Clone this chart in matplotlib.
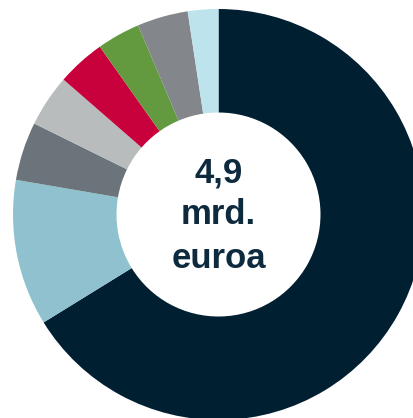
import matplotlib.pyplot as plt

# -------------------------
# Data (shares, clockwise from 12 o'clock)
# -------------------------
segments = ["A", "B", "C", "D", "E", "F", "G", "H"]
shares = [66.2, 11.5, 4.6, 4.1, 3.8, 3.4, 4.0, 2.4]
colors = ["#001f31", "#8fc2ce", "#6b737b", "#b8bcbd",
          "#c8003c", "#639a3f", "#83878c", "#bde3ec"]
center_lines = ["4,9", "mrd.", "euroa"]

# -------------------------
# Plot
# -------------------------
W, H = 414, 418
fig = plt.figure(figsize=(W / 100, H / 100), dpi=100)
ax = fig.add_axes([0, 0, 1, 1])

cx, cy = 218.5, H - 214.5
R, r = 205.5, 102

ax.pie(shares, colors=colors, startangle=90, counterclock=False,
       center=(cx, cy), radius=R, frame=True,
       wedgeprops=dict(width=R - r, linewidth=0))
ax.set_xlim(0, W)
ax.set_ylim(0, H)
ax.set_aspect("auto")
ax.axis("off")

text_color = "#0d2a3e"
baselines = [183, 224, 268]
for line, yb in zip(center_lines, baselines):
    ax.text(cx, H - yb, line, ha="center", va="baseline",
            fontsize=25, fontweight="bold", color=text_color,
            family="Liberation Sans")

fig.savefig("out.png", dpi=100)
